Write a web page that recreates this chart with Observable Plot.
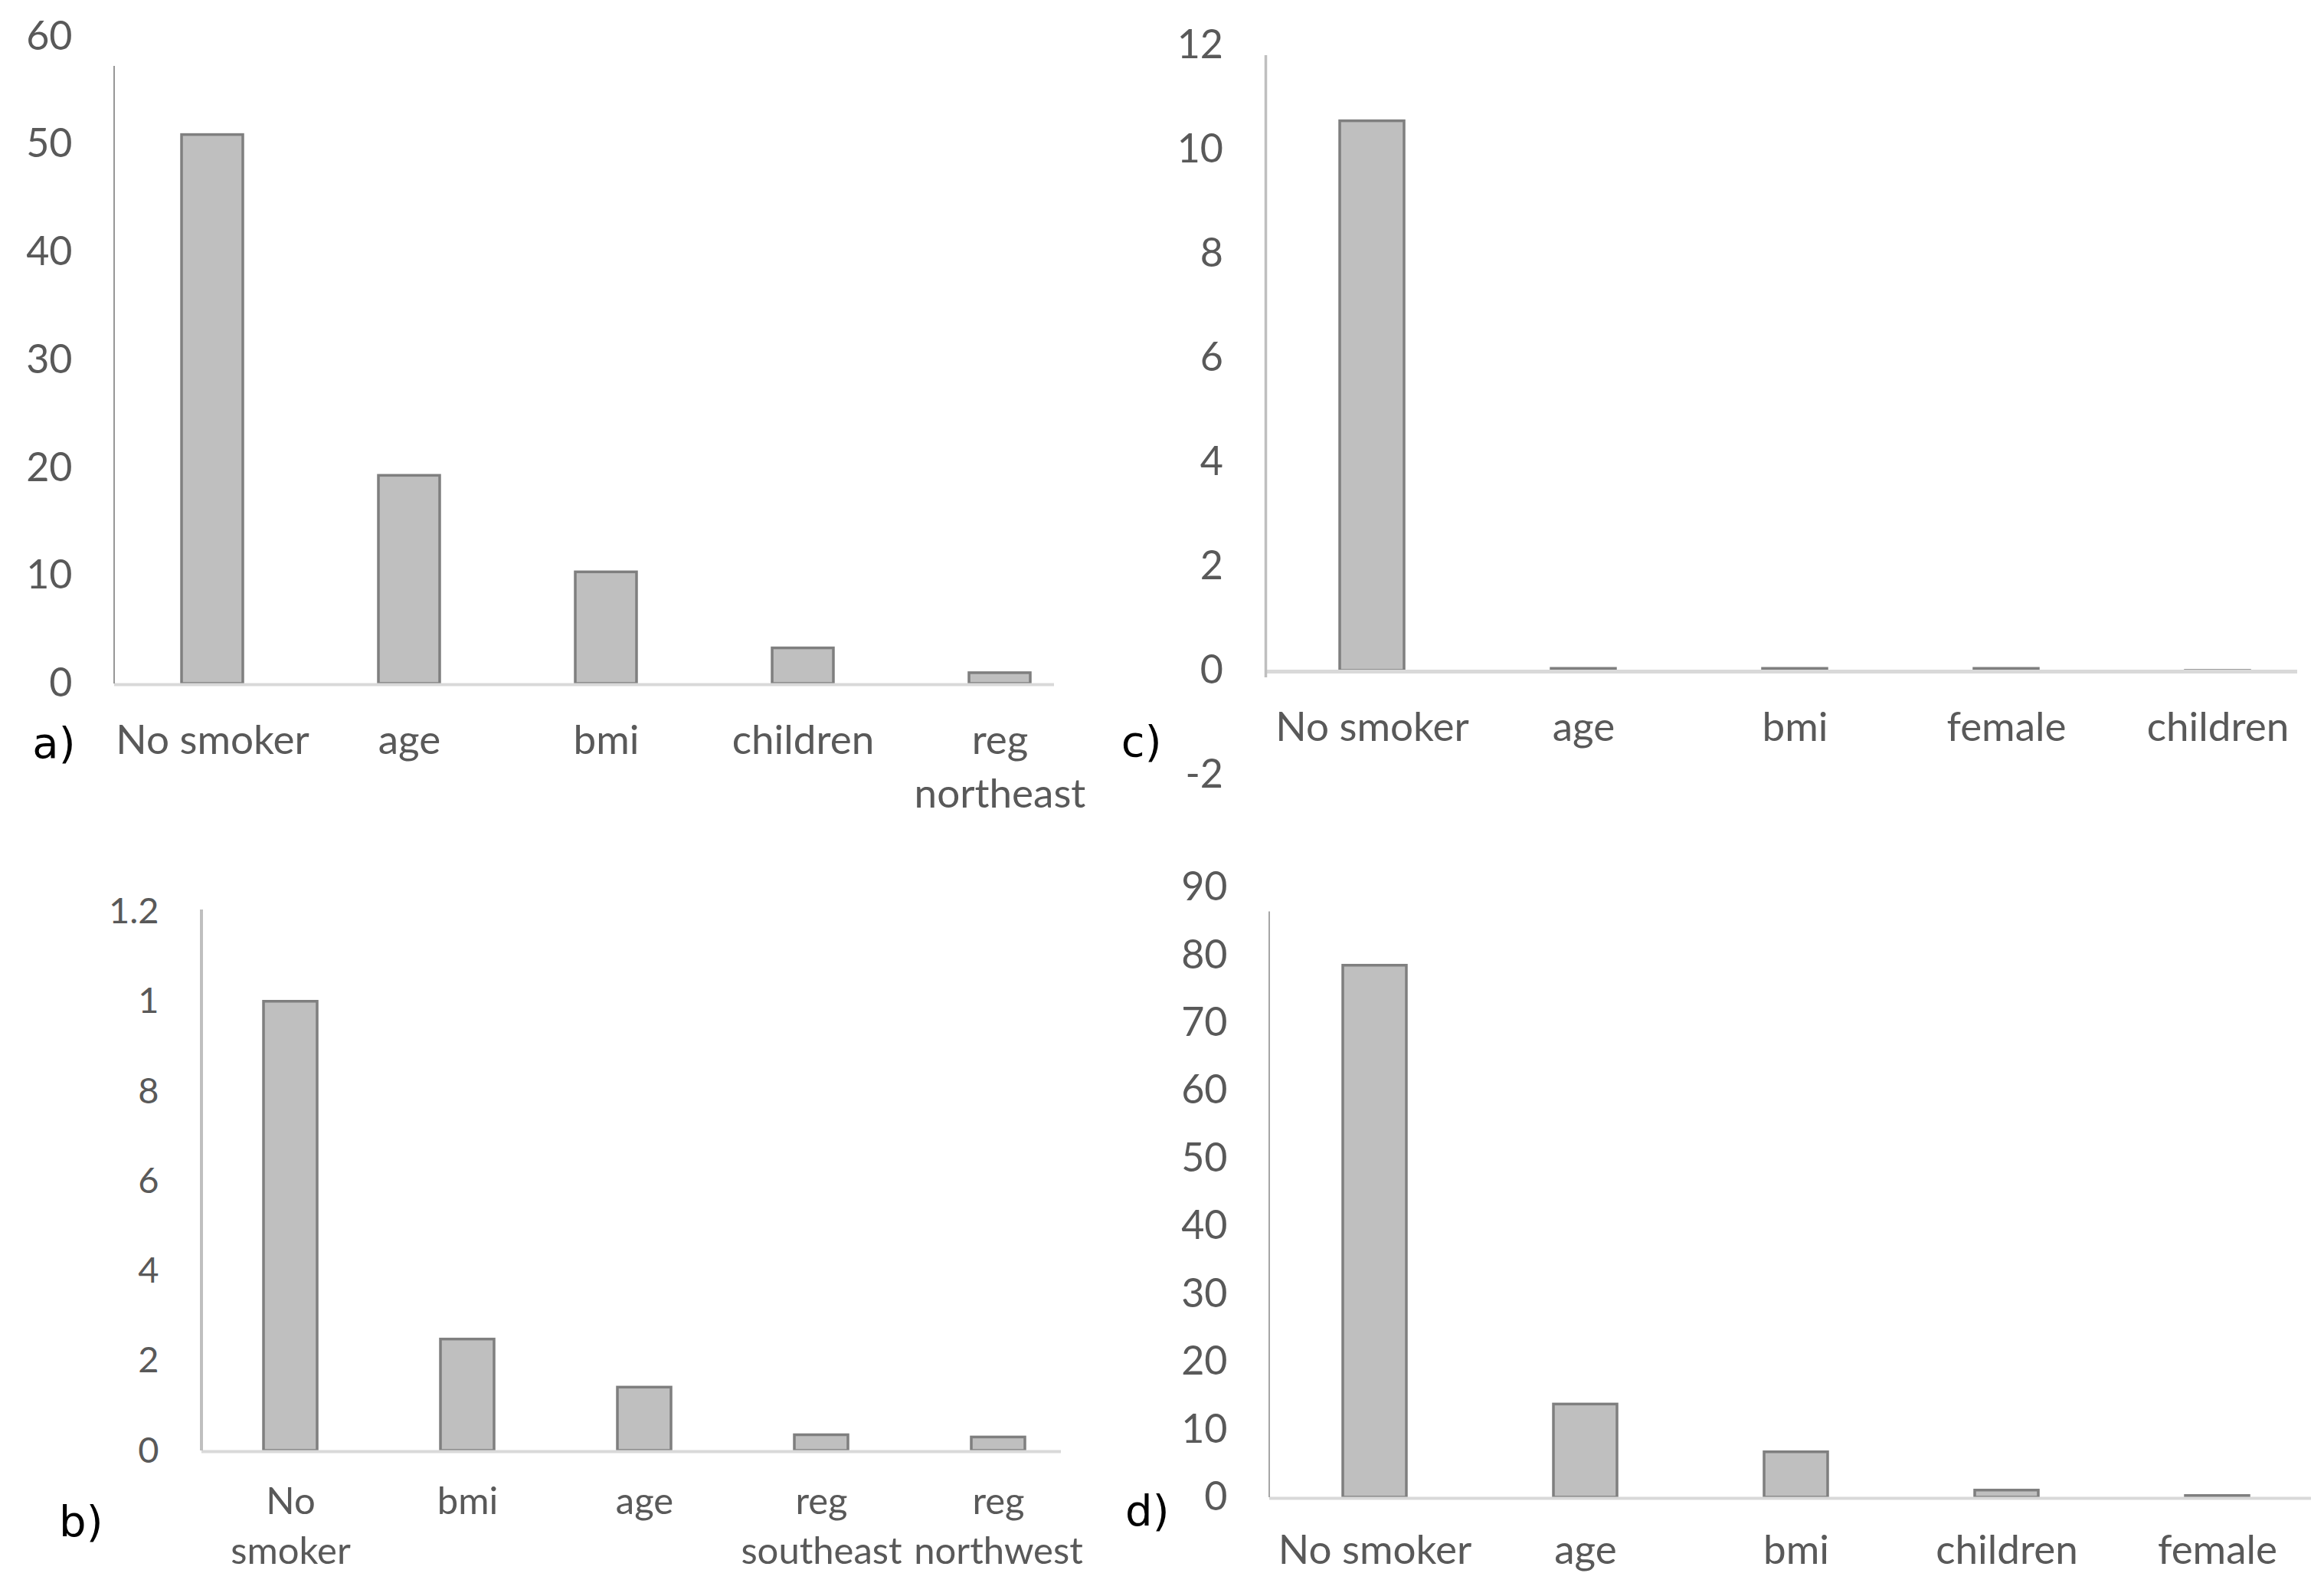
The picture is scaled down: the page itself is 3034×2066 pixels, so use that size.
<!DOCTYPE html>
<html>
<head>
<meta charset="utf-8">
<script src="https://cdn.jsdelivr.net/npm/d3@7"></script>
<script src="https://cdn.jsdelivr.net/npm/@observablehq/plot@0.6"></script>
<style>
  html, body { margin: 0; padding: 0; background: #ffffff; }
  #wrap { position: relative; width: 3034px; height: 2066px; background: #ffffff; overflow: hidden; }
</style>
</head>
<body>
<div id="wrap"></div>
<script>
// ---- Panel a ----
const catsA = ["No smoker", "age", "bmi", "children", "reg\nnortheast"];
const valsA = [50.9, 19.3, 10.35, 3.3, 1.0];
const ticksA = [0, 10, 20, 30, 40, 50, 60];
const tickLabelsA = ["0", "10", "20", "30", "40", "50", "60"];

// ---- Panel b ----
const catsB = ["No\nsmoker", "bmi", "age", "reg\nsoutheast", "reg\nnorthwest"];
const valsB = [1.0, 0.248, 0.141, 0.035, 0.03];
const ticksB = [0, 0.2, 0.4, 0.6, 0.8, 1, 1.2];
const tickLabelsB = ["0", "2", "4", "6", "8", "1", "1.2"];

// ---- Panel c ----
const catsC = ["No smoker", "age", "bmi", "female", "children"];
const valsC = [10.55, 0.04, 0.04, 0.04, -0.03];
const ticksC = [-2, 0, 2, 4, 6, 8, 10, 12];
const tickLabelsC = ["-2", "0", "2", "4", "6", "8", "10", "12"];

// ---- Panel d ----
const catsD = ["No smoker", "age", "bmi", "children", "female"];
const valsD = [78.5, 13.75, 6.7, 1.05, 0.25];
const ticksD = [0, 10, 20, 30, 40, 50, 60, 70, 80, 90];
const tickLabelsD = ["0", "10", "20", "30", "40", "50", "60", "70", "80", "90"];

const panelLabels = ["a)", "b)", "c)", "d)"];

const W = 3034, H = 2066;
const TEXT = "#595959";

function axisLine(color, w) {
  return (index, scales, values, dims) => {
    const l = document.createElementNS("http://www.w3.org/2000/svg", "line");
    l.setAttribute("x1", dims.marginLeft);
    l.setAttribute("x2", dims.marginLeft);
    l.setAttribute("y1", dims.marginTop);
    l.setAttribute("y2", dims.height - dims.marginBottom);
    l.setAttribute("stroke", color);
    l.setAttribute("stroke-width", w);
    return l;
  };
}

function panel(cfg) {
  const data = cfg.cats.map((c, i) => ({cat: c, v: cfg.vals[i]}));
  return Plot.plot({
    width: W, height: H,
    marginLeft: cfg.m[0], marginTop: cfg.m[1], marginRight: cfg.m[2], marginBottom: cfg.m[3],
    style: {
      position: "absolute", left: "0px", top: "0px", background: "transparent",
      maxWidth: "none", overflow: "visible", fontFamily: "Lato", fontSize: cfg.fs + "px", color: TEXT
    },
    x: {type: "band", domain: cfg.cats, range: cfg.xr, paddingInner: cfg.pad, paddingOuter: cfg.pad / 2, align: 0.5, axis: null, label: null},
    y: {domain: cfg.yd, range: cfg.yr, label: null},
    marks: [
      Plot.barY(data, {x: "cat", y: "v", fill: "#bfbfbf", stroke: "#7f7f7f", strokeWidth: 3.5}),
      Plot.ruleY([0], {stroke: "#d9d9d9", strokeWidth: cfg.baseW, dy: 1}),
      axisLine(cfg.axisColor, cfg.axisW),
      Plot.axisY({
        ticks: cfg.ticks,
        tickFormat: d => cfg.tickLabels[cfg.ticks.indexOf(d)],
        tickSize: 0, tickPadding: cfg.tickPad, color: TEXT, fontSize: cfg.fs, label: null
      }),
      Plot.text(cfg.cats, {
        x: d => d, frameAnchor: "bottom", dy: cfg.xdy, lineAnchor: "top",
        lineHeight: cfg.lh, fill: TEXT, fontSize: cfg.xfs, textAnchor: "middle"
      }),
      Plot.text([cfg.label], {
        frameAnchor: "bottom-left", textAnchor: "end", lineAnchor: "bottom",
        dx: cfg.ldx, dy: cfg.ldy, fill: "#000000", fontSize: 56, fontFamily: "DejaVu Sans"
      })
    ]
  });
}

const wrap = document.getElementById("wrap");

wrap.appendChild(panel({
  cats: catsA, vals: valsA, ticks: ticksA, tickLabels: tickLabelsA, label: panelLabels[0],
  m: [149, 86, W - 1376, H - 892],
  xr: [149, 1434], pad: 0.687,
  yd: [0, 60], yr: [892, 47.5],
  fs: 52, xfs: 53, tickPad: 55, xdy: 42, lh: 1.32,
  ldx: -51, ldy: 96,
  axisColor: "#8c8c8c", axisW: 1.8, baseW: 4
}));

wrap.appendChild(panel({
  cats: catsB, vals: valsB, ticks: ticksB, tickLabels: tickLabelsB, label: panelLabels[1],
  m: [263, 1187, W - 1385, H - 1893],
  xr: [263, 1418], pad: 0.697,
  yd: [0, 1.2], yr: [1893, 1189.5],
  fs: 47, xfs: 49, tickPad: 56, xdy: 37, lh: 1.32,
  ldx: -129, ldy: 111,
  axisColor: "#bfbfbf", axisW: 4, baseW: 4
}));

wrap.appendChild(panel({
  cats: catsC, vals: valsC, ticks: ticksC, tickLabels: tickLabelsC, label: panelLabels[2],
  m: [1652.5, 72, W - 2999, H - 884],
  xr: [1652.5, 3032.5], pad: 0.696,
  yd: [-2, 12], yr: [1011, 59],
  fs: 52, xfs: 53, tickPad: 56, xdy: 33, lh: 1.32,
  ldx: -136.5, ldy: 102,
  axisColor: "#bfbfbf", axisW: 3.5, baseW: 5
}));

wrap.appendChild(panel({
  cats: catsD, vals: valsD, ticks: ticksD, tickLabels: tickLabelsD, label: panelLabels[3],
  m: [1657, 1189.5, W - 3017, H - 1954],
  xr: [1657, 3032], pad: 0.698,
  yd: [0, 90], yr: [1954, 1158],
  fs: 52, xfs: 53, tickPad: 55, xdy: 37, lh: 1.32,
  ldx: -131, ldy: 36,
  axisColor: "#a6a6a6", axisW: 2, baseW: 4
}));
</script>
</body>
</html>
